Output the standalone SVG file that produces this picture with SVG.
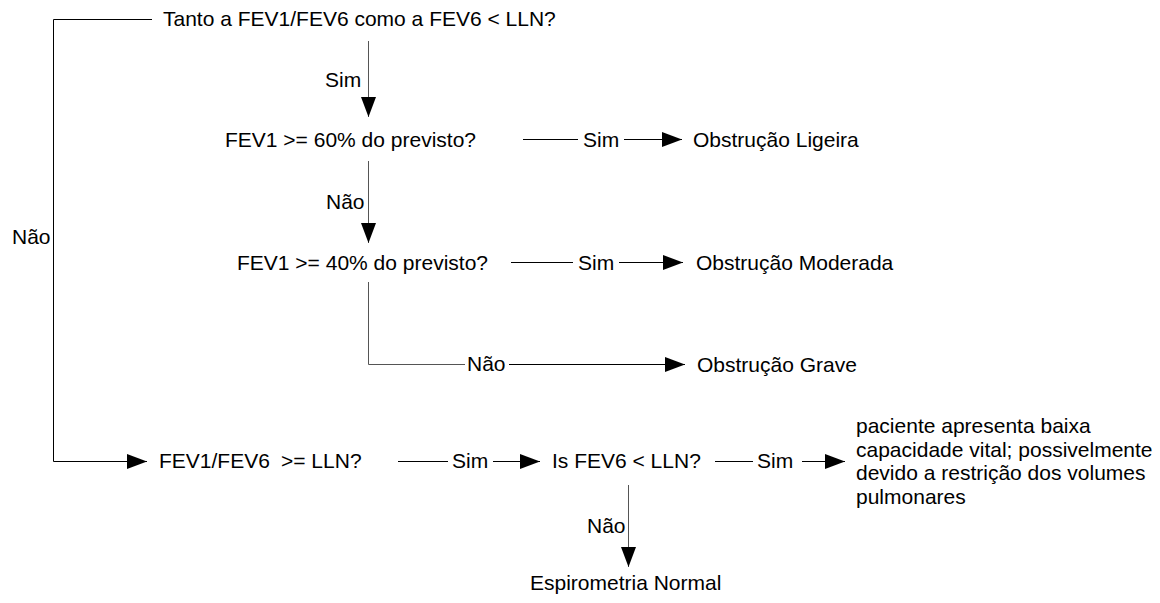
<svg xmlns="http://www.w3.org/2000/svg" width="1160" height="603" viewBox="0 0 1160 603">
<style>
text{font-family:"Liberation Sans",Arial,sans-serif;font-size:21px;fill:#000}
.c{fill:none;stroke:#000;stroke-width:1}
.v{fill:none;stroke:#555;stroke-width:1}
</style>
<defs>
<marker id="ah" markerWidth="20" markerHeight="16" refX="20" refY="8" orient="auto" markerUnits="userSpaceOnUse">
<path d="M0,0.5 L20,8 L0,15.5 z" fill="#000"/>
</marker>
</defs>
<rect width="1160" height="603" fill="#fff"/>
<g id="connectors">
<polyline class="c" points="152,19.5 53.5,19.5 53.5,461.5 147,461.5" marker-end="url(#ah)"/>
<text x="12" y="244">Não</text>
<line class="v" x1="368.5" y1="41" x2="368.5" y2="117" marker-end="url(#ah)"/>
<text x="325" y="87">Sim</text>
<line class="c" x1="523" y1="139.5" x2="578" y2="139.5"/>
<text x="583" y="147">Sim</text>
<line class="c" x1="624" y1="139.5" x2="682" y2="139.5" marker-end="url(#ah)"/>
<line class="v" x1="368.5" y1="161" x2="368.5" y2="243" marker-end="url(#ah)"/>
<text x="326" y="209">Não</text>
<line class="c" x1="511" y1="262.5" x2="573" y2="262.5"/>
<text x="578" y="270">Sim</text>
<line class="c" x1="619" y1="262.5" x2="683" y2="262.5" marker-end="url(#ah)"/>
<polyline class="v" points="368.5,282 368.5,364.5 465,364.5"/>
<text x="467" y="371">Não</text>
<line class="c" x1="509" y1="364.5" x2="685" y2="364.5" marker-end="url(#ah)"/>
<line class="c" x1="398" y1="461.5" x2="448" y2="461.5"/>
<text x="452" y="468">Sim</text>
<line class="c" x1="493" y1="461.5" x2="540" y2="461.5" marker-end="url(#ah)"/>
<line class="c" x1="715" y1="461.5" x2="753" y2="461.5"/>
<text x="757" y="468">Sim</text>
<line class="c" x1="802" y1="461.5" x2="845" y2="461.5" marker-end="url(#ah)"/>
<line class="v" x1="628.5" y1="485" x2="628.5" y2="567" marker-end="url(#ah)"/>
<text x="587" y="533">Não</text>
</g>
<g id="q1"><text x="163" y="26">Tanto a FEV1/FEV6 como a FEV6 &lt; LLN?</text></g>
<g id="q2"><text x="225" y="146.5">FEV1 &gt;= 60% do previsto?</text></g>
<g id="ligeira"><text x="693" y="147">Obstrução Ligeira</text></g>
<g id="q3"><text x="237" y="270">FEV1 &gt;= 40% do previsto?</text></g>
<g id="moderada"><text x="696" y="270">Obstrução Moderada</text></g>
<g id="grave"><text x="697" y="371.5">Obstrução Grave</text></g>
<g id="q4"><text x="159" y="468">FEV1/FEV6</text><text x="281" y="468">&gt;= LLN?</text></g>
<g id="q5"><text x="552" y="468">Is FEV6 &lt; LLN?</text></g>
<g id="restricao">
<text x="856" y="433">paciente apresenta baixa</text>
<text x="856" y="456.5">capacidade vital; possivelmente</text>
<text x="856" y="480">devido a restrição dos volumes</text>
<text x="856" y="503.5">pulmonares</text>
</g>
<g id="normal"><text x="530" y="590">Espirometria Normal</text></g>
</svg>
